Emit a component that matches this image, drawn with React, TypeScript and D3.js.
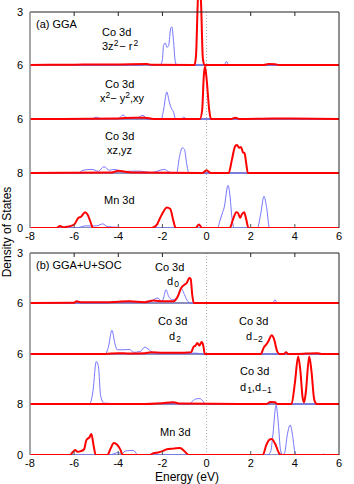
import * as d3 from 'd3'

type Pt = [number, number]

// ── x axis ──────────────────────────────────────────────────────────────────
const X_TICKS = [-8, -6, -4, -2, 0, 2, 4, 6]
const Y_LABELS = ['3', '6', '6', '8', '0']
const Y_MAX = [3, 6, 6, 8]

// ── (a) GGA ─────────────────────────────────────────────────────────────────
const aCoZ2Blue: Pt[] = [[-8,0],[-3.0,0],[-2.8,0.05],[-2.6,0],[-2.1,0],[-2.0,0.3],[-1.95,1.1],[-1.87,1.25],[-1.8,1.0],[-1.72,1.1],[-1.62,2.1],[-1.57,2.15],[-1.5,1.4],[-1.42,0.2],[-1.35,0],[0.8,0],[0.9,0.2],[1.0,0],[6,0]]
const aCoZ2Red: Pt[] = [[-8,0],[-6,0.02],[-4,0.03],[-2.7,0.05],[-2.5,0.02],[-0.55,0],[-0.48,0.5],[-0.4,3.5],[-0.34,5],[-0.25,3.5],[-0.17,0.4],[-0.1,0],[2.6,0],[2.8,0.05],[3.1,0.04],[3.3,0],[6,0]]

const aCoXYBlue: Pt[] = [[-8,0],[-5.2,0],[-5.0,0.2],[-4.8,0.05],[-4.0,0.05],[-3.78,0.45],[-3.6,0.1],[-3.2,0.1],[-2.88,0.4],[-2.7,0],[-2.05,0],[-1.95,1.0],[-1.8,3.0],[-1.7,2.0],[-1.6,1.2],[-1.5,0.8],[-1.4,0],[-1.15,0],[-1.03,0.2],[-0.9,0],[6,0]]
const aCoXYRed: Pt[] = [[-8,0],[-4,0.05],[-3.3,0.15],[-2.8,0.15],[-2.4,0],[-0.3,0],[-0.2,1.0],[-0.12,5.0],[-0.07,5.8],[0.0,4.5],[0.12,1.0],[0.2,0],[1.1,0],[1.3,0.15],[1.5,0],[3.0,0.05],[3.4,0.05],[6,0]]

const aCoXZBlue: Pt[] = [[-8,0],[-5.8,0],[-5.6,0.3],[-5.2,0.4],[-4.9,0.2],[-4.65,0.7],[-4.4,0.3],[-4.2,0.4],[-3.8,0.15],[-3.4,0.2],[-3.0,0.2],[-2.5,0.05],[-1.9,0.4],[-1.7,0.1],[-1.35,0],[-1.25,1.5],[-1.1,2.8],[-1.0,2.6],[-0.9,1.0],[-0.8,0],[6,0]]
const aCoXZRed: Pt[] = [[-8,0],[-4.3,0.05],[-4.0,0.25],[-3.7,0.15],[-3.2,0.05],[-0.2,0],[0,0.3],[0.2,0],[1.0,0],[1.15,1.5],[1.3,3.0],[1.38,3.1],[1.48,2.8],[1.56,2.9],[1.65,2.3],[1.72,2.2],[1.8,1.0],[1.87,0],[6,0]]

const aMnBlue: Pt[] = [[-8,0],[-5.9,0],[-5.5,0.3],[-5.0,0.3],[-4.7,0.6],[-4.5,0.2],[-4.0,0.1],[-3.5,0],[0.5,0],[0.6,1.0],[0.72,2.2],[0.8,3.0],[0.97,6.2],[1.05,5.0],[1.15,1.5],[1.25,0],[2.3,0],[2.45,2.0],[2.6,4.6],[2.72,3.0],[2.85,0],[6,0]]
const aMnRed: Pt[] = [[-8,0],[-6.8,0],[-6.64,0.3],[-6.5,0.1],[-6.3,0.2],[-6.0,0.5],[-5.8,1.5],[-5.7,1.6],[-5.5,2.3],[-5.4,2.0],[-5.25,0.8],[-5.15,0],[-2.5,0],[-2.25,0.5],[-2.1,1.5],[-1.95,2.4],[-1.8,3.0],[-1.65,2.8],[-1.5,1.0],[-1.4,0],[-0.5,0],[-0.35,0.5],[-0.2,0],[1.05,0],[1.2,1.3],[1.35,2.3],[1.42,2.2],[1.52,1.5],[1.6,2.0],[1.7,2.3],[1.8,1.2],[1.9,0],[6,0]]

// ── (b) GGA+U+SOC ───────────────────────────────────────────────────────────
const bD0Blue: Pt[] = [[-8,0],[-4.5,0],[-4.2,0.1],[-3.9,0.05],[-2.6,0.05],[-2.4,0.2],[-2.2,0.3],[-2.05,0.1],[-1.95,0.3],[-1.84,0.8],[-1.72,0.4],[-1.55,0.2],[-1.35,0.3],[-1.16,0.9],[-1.0,0.5],[-0.85,0.1],[-0.7,0],[3.0,0],[3.1,0.2],[3.2,0],[6,0]]
const bD0Red: Pt[] = [[-8,0],[-6,0.02],[-5.9,0.1],[-5.7,0.05],[-4.5,0.05],[-3.5,0.1],[-2.8,0.05],[-2.4,0.15],[-2.0,0.1],[-1.5,0.1],[-1.3,0.4],[-1.15,0.9],[-1.0,1.1],[-0.9,1.2],[-0.78,1.5],[-0.72,1.45],[-0.65,0.5],[-0.58,0],[6,0]]

const bD2Blue: Pt[] = [[-8,0],[-4.6,0],[-4.45,0.8],[-4.29,2.8],[-4.15,1.2],[-4.05,0.5],[-3.7,0.5],[-3.5,0.55],[-3.3,0.2],[-3.0,0.3],[-2.8,0.8],[-2.6,0.5],[-2.4,0.1],[-1.5,0.05],[-0.5,0.1],[-0.3,0.05],[-0.1,0],[6,0]]
const bD2Red: Pt[] = [[-8,0],[-4.6,0],[-4.0,0.1],[-3.5,0.05],[-2.8,0.1],[-2.5,0.2],[-2.0,0.15],[-1.0,0.15],[-0.7,0.2],[-0.6,0.8],[-0.5,1.0],[-0.42,1.3],[-0.33,1.0],[-0.22,1.4],[-0.15,1.0],[-0.08,0],[2.45,0],[2.6,0.8],[2.7,1.1],[2.8,1.5],[2.95,2.2],[3.05,1.8],[3.2,0.3],[3.3,0],[3.5,0],[3.6,0.2],[3.7,0],[4.5,0.05],[5.0,0.1],[5.2,0],[6,0]]

const bD1Blue: Pt[] = [[-8,0],[-5.3,0],[-5.15,1.5],[-5.0,5.1],[-4.9,4.5],[-4.8,1.0],[-4.65,0.1],[-4,0.05],[-2,0.05],[-0.8,0],[-0.65,0.3],[-0.5,0.6],[-0.3,0.65],[-0.15,0.3],[-0.05,0],[2.8,0],[3.0,0.2],[3.15,0],[6,0]]
const bD1Red: Pt[] = [[-8,0],[-3,0],[-2.0,0.1],[-1.5,0.2],[-1.2,0.05],[2.7,0],[2.9,0.25],[3.1,0.2],[3.2,0],[3.85,0],[4.0,2.5],[4.15,5.7],[4.25,4.0],[4.35,0.8],[4.42,0.2],[4.5,1.5],[4.65,5.7],[4.75,4.0],[4.88,0.5],[5.0,0],[6,0]]

const bMnBlue: Pt[] = [[-8,0],[-4.4,0],[-4.2,0.2],[-4.0,0.4],[-3.85,0.1],[-3.7,0.6],[-3.5,0.7],[-3.3,0.7],[-3.15,0.1],[-3.0,0],[2.75,0],[2.9,0.5],[3.0,3.0],[3.15,7.8],[3.25,5.0],[3.35,0.8],[3.45,0],[3.55,0.5],[3.65,3.0],[3.79,4.7],[3.9,3.0],[4.0,0.5],[4.1,0],[5.2,0],[5.3,0.15],[5.4,0],[6,0]]
const bMnRed: Pt[] = [[-8,0],[-6.2,0],[-6.05,0.5],[-5.96,0.8],[-5.85,0.5],[-5.7,0.6],[-5.55,0.9],[-5.45,2.3],[-5.3,2.8],[-5.22,3.3],[-5.12,1.5],[-5.02,0],[-4.5,0],[-4.35,1.0],[-4.2,1.9],[-4.05,1.6],[-3.9,0.8],[-3.8,0],[-2.6,0],[-2.4,0.3],[-2.2,0.4],[-2.0,0.6],[-1.8,0.9],[-1.5,1.0],[-1.2,1.1],[-1.0,0.6],[-0.8,0],[2.55,0],[2.7,1.5],[2.85,2.4],[2.95,2.5],[3.1,1.8],[3.3,0.2],[3.4,0],[6,0]]

// layout
const W = 354
const H = 484
const LEFT = 30
const RIGHT = 339
const PANEL_A = [12, 65, 119, 173, 228]
const PANEL_B = [253, 303, 354, 404, 455]
const FONT = '"Liberation Sans", Arial, Helvetica, sans-serif'
const RED = '#ff0000'
const BLUE = '#6666ff'

const x = d3.scaleLinear().domain([-8, 6]).range([LEFT, RIGHT])

function Panel({ bounds, curves, clipId }: { bounds: number[]; curves: [Pt[], Pt[]][]; clipId: string }) {
  const top = bounds[0]
  const bottom = bounds[bounds.length - 1]
  return (
    <g>
      <defs>
        <clipPath id={clipId}>
          <rect x={LEFT} y={0} width={RIGHT - LEFT} height={bottom} />
        </clipPath>
      </defs>
      {/* Fermi level */}
      <line x1={x(0)} x2={x(0)} y1={top} y2={bottom} stroke="#999" strokeWidth={0.8} strokeDasharray="1,2" />
      {curves.map(([blue, red], i) => {
        const y = d3.scaleLinear().domain([0, Y_MAX[i]]).range([bounds[i + 1], bounds[i]])
        const line = d3.line<Pt>().x((d) => x(d[0])).y((d) => y(d[1])).curve(d3.curveMonotoneX)
        return (
          <g key={i} clipPath={`url(#${clipId})`}>
            <line x1={LEFT} x2={RIGHT} y1={bounds[i + 1]} y2={bounds[i + 1]} stroke="#1a1a80" strokeWidth={1} />
            <path d={line(blue) ?? ''} fill="none" stroke={BLUE} strokeWidth={0.9} />
            <path d={line(red) ?? ''} fill="none" stroke={RED} strokeWidth={2} strokeLinejoin="round" />
          </g>
        )
      })}
      {/* frame */}
      <line x1={LEFT} x2={RIGHT} y1={top} y2={top} stroke="#222" strokeWidth={1} />
      <line x1={RIGHT} x2={RIGHT} y1={top} y2={bottom} stroke="#222" strokeWidth={1} />
      <line x1={LEFT} x2={LEFT} y1={top} y2={bottom} stroke="#888" strokeWidth={1.5} />
      {X_TICKS.slice(1, -1).filter((t) => t !== 0).map((t) => (
        <g key={t}>
          <line x1={x(t)} x2={x(t)} y1={top} y2={top + 4} stroke="#222" />
          <line x1={x(t)} x2={x(t)} y1={bottom} y2={bottom - 4} stroke="#555" />
        </g>
      ))}
      {X_TICKS.map((t) => (
        <text key={t} x={x(t)} y={bottom + 12} textAnchor="middle" fontSize={11}>
          {t < 0 ? `-${-t}` : t}
        </text>
      ))}
      {Y_LABELS.map((l, i) => (
        <text key={i} x={23} y={bounds[i] + 4} textAnchor="end" fontSize={11}>{l}</text>
      ))}
    </g>
  )
}

const SUP = { baselineShift: '40%', fontSize: 8.5 } as const
const SUB = { baselineShift: '-25%', fontSize: 8.5 } as const

export default function App() {
  return (
    <svg width={W} height={H} style={{ position: 'absolute', left: 0, top: 0, background: '#fff' }} fontFamily={FONT}>
      <Panel bounds={PANEL_A} clipId="clipA"
        curves={[[aCoZ2Blue, aCoZ2Red], [aCoXYBlue, aCoXYRed], [aCoXZBlue, aCoXZRed], [aMnBlue, aMnRed]]} />
      <Panel bounds={PANEL_B} clipId="clipB"
        curves={[[bD0Blue, bD0Red], [bD2Blue, bD2Red], [bD1Blue, bD1Red], [bMnBlue, bMnRed]]} />

      <g fontSize={11} fill="#000">
        <text x={36} y={28}>(a) GGA</text>
        <text x={102} y={36}>Co 3d</text>
        <text x={102} y={50}>3z<tspan style={SUP}>2</tspan><tspan dx={1}>− r</tspan><tspan dx={1} style={SUP}>2</tspan></text>
        <text x={105} y={88}>Co 3d</text>
        <text x={100} y={102}>x<tspan style={SUP}>2</tspan><tspan>− y</tspan><tspan style={SUP}>2</tspan><tspan>,xy</tspan></text>
        <text x={105} y={140}>Co 3d</text>
        <text x={107} y={154}>xz,yz</text>
        <text x={104} y={204}>Mn 3d</text>

        <text x={36} y={269}>(b) GGA+U+SOC</text>
        <text x={155} y={271}>Co 3d</text>
        <text x={167} y={285}>d<tspan dx={1} style={SUB}>0</tspan></text>
        <text x={158} y={325}>Co 3d</text>
        <text x={169} y={340}>d<tspan dx={1} style={SUB}>2</tspan></text>
        <text x={239} y={325}>Co 3d</text>
        <text x={246} y={340}>d<tspan dx={1} style={SUB}>−2</tspan></text>
        <text x={240} y={375}>Co 3d</text>
        <text x={240} y={391}>d<tspan dx={1} style={SUB}>1</tspan><tspan>,d</tspan><tspan dx={1} style={SUB}>−1</tspan></text>
        <text x={160} y={436}>Mn 3d</text>
      </g>

      <text x={187} y={481} textAnchor="middle" fontSize={12}>Energy (eV)</text>
      <text transform="translate(11,232) rotate(-90)" textAnchor="middle" fontSize={12}>Density of States</text>
    </svg>
  )
}
